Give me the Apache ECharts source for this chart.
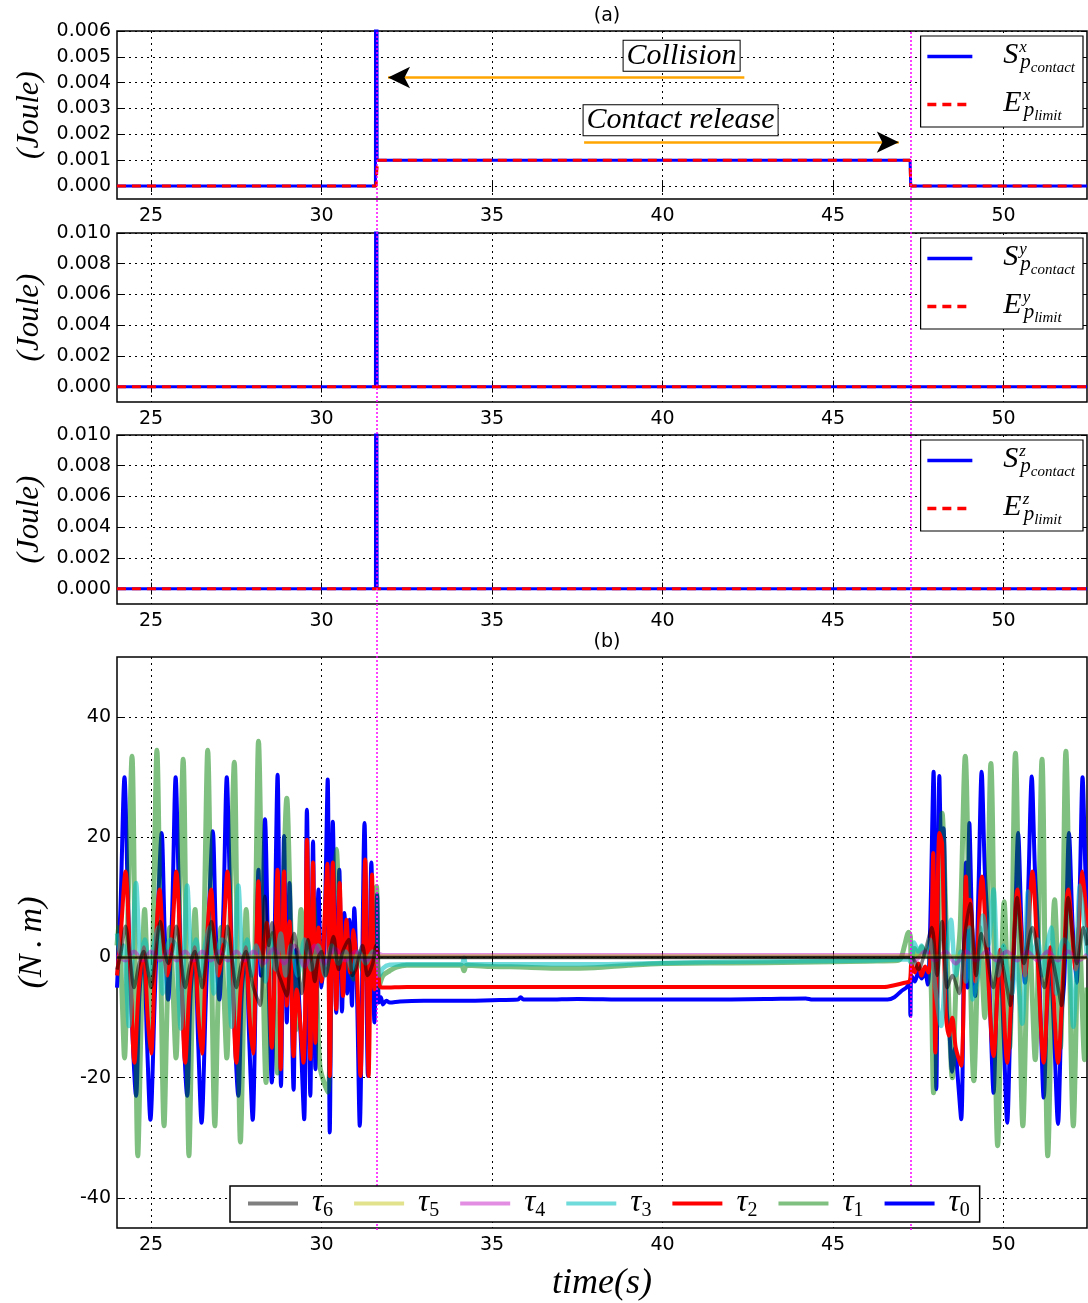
<!DOCTYPE html>
<html>
<head>
<meta charset="utf-8">
<script src="https://cdn.jsdelivr.net/npm/echarts@6.0.0/dist/echarts.min.js"></script>
<style>
  html, body { margin: 0; padding: 0; background: #fff; }
  #chart { width: 1088px; height: 1303px; }
</style>
</head>
<body>
<div id="chart"></div>
<script>
// ---- data ----
var timeTicks = [25, 30, 35, 40, 45, 50];
var joulesTicksA = [0, 0.001, 0.002, 0.003, 0.004, 0.005, 0.006];
var joulesTicksB = [0, 0.002, 0.004, 0.006, 0.008, 0.010];
var torqueTicks = [-40, -20, 0, 20, 40];

// (a) energies: [time, joule]
var sx = [[24, 0], [31.58, 0], [31.6, 0.05], [31.63, 0.001], [47.26, 0.001], [47.28, 0], [52.45, 0]];
var ex = [[24, 0], [31.6, 0], [31.62, 0.0006], [31.65, 0.001], [47.26, 0.001], [47.28, 0], [52.45, 0]];
var sy = [[24, 0], [31.58, 0], [31.6, 0.05], [31.63, 0], [52.45, 0]];
var ey = [[24, 0], [52.45, 0]];
var sz = [[24, 0], [31.58, 0], [31.6, 0.05], [31.63, 0], [52.45, 0]];
var ez = [[24, 0], [52.45, 0]];

// (b) joint torques: [time, N.m]
var tau0 = [[24.00,-5],[24.10,8],[24.22,30],[24.31,12],[24.40,-5],[24.56,-23],[24.66,-6],[24.78,1],[24.88,-14],[24.98,-27],[25.10,-8],[25.20,8],[25.31,20.7],[25.40,4],[25.50,-7],[25.62,8],[25.72,30],[25.81,12],[25.90,-5],[26.06,-23],[26.16,-6],[26.28,1],[26.38,-14],[26.48,-27.5],[26.60,-8],[26.70,8],[26.81,21],[26.90,4],[27.00,-7],[27.12,8],[27.22,30],[27.31,12],[27.40,-5],[27.56,-23],[27.66,-6],[27.78,1],[27.88,-14],[27.98,-27],[28.07,-5],[28.15,14.6],[28.22,-3],[28.34,23],[28.44,-2],[28.54,-20.8],[28.62,2],[28.71,30.4],[28.81,-21.4],[28.90,20.2],[28.98,-10.8],[29.06,12.4],[29.18,-22],[29.25,1.3],[29.35,-8],[29.49,-26.9],[29.57,24.6],[29.67,-23],[29.75,19.3],[29.82,-18.6],[29.91,11.3],[30.00,-5],[30.08,2],[30.18,29.6],[30.24,-29.1],[30.33,22.6],[30.43,-9.2],[30.52,14.6],[30.60,-9],[30.67,7.4],[30.75,-6],[30.82,6.3],[30.89,-8],[30.96,8.2],[31.04,-6],[31.12,-28],[31.26,22.4],[31.36,-19.7],[31.46,15.8],[31.55,-10.8],[31.63,10.5],[31.68,-7.5],[31.74,-6.6],[31.80,-7.8],[31.90,-7.2],[32.0,-7.5],[32.3,-7.3],[33.0,-7.2],[34.0,-7.2],[35.0,-7.1],[35.76,-7.0],[35.84,-6.6],[35.92,-7.0],[36.6,-7.0],[37.5,-6.9],[39.0,-7.0],[41.0,-7.0],[43.0,-6.9],[44.2,-6.8],[44.4,-7.0],[46.0,-7.0],[46.6,-7.0],[46.8,-6.6],[47.0,-5.6],[47.15,-5],[47.24,-4.3],[47.27,-9.7],[47.30,-3],[47.40,-4],[47.50,-2.5],[47.60,-3.5],[47.70,-2.5],[47.78,-4.5],[47.85,5],[47.95,30.9],[48.03,-21.9],[48.12,30.2],[48.18,18],[48.24,21.5],[48.34,-9],[48.42,-13],[48.49,-19],[48.58,-15],[48.66,-20],[48.76,-26.9],[48.84,0],[48.90,15.8],[48.95,-5],[49.00,22.4],[49.08,5],[49.17,-6.4],[49.27,12],[49.36,30.9],[49.45,15],[49.53,5.8],[49.62,-10],[49.71,-22.5],[49.80,-8],[49.90,0],[50.00,-12],[50.11,-27.5],[50.20,-12],[50.27,-4],[50.35,8],[50.43,20.7],[50.53,5],[50.63,-4.2],[50.73,12],[50.83,30.1],[50.92,15],[51.00,5.8],[51.09,-10],[51.18,-23.3],[51.28,-8],[51.37,0],[51.48,-12],[51.60,-27.7],[51.70,-10],[51.78,-4],[51.85,8],[51.92,20.7],[52.03,5],[52.14,-4.2],[52.24,12],[52.32,30],[52.40,15],[52.45,8]];
var tau1 = [[24.00,2],[24.05,5],[24.14,-5],[24.22,-16.7],[24.33,10],[24.44,33.5],[24.53,0],[24.61,-33],[24.71,-10],[24.81,8],[24.90,-5],[24.98,-15],[25.08,10],[25.17,34.5],[25.28,0],[25.38,-28],[25.47,-8],[25.55,5],[25.64,-5],[25.73,-16.7],[25.84,10],[25.94,33],[26.03,0],[26.11,-33],[26.20,-10],[26.29,8],[26.39,-5],[26.48,-15],[26.57,10],[26.66,34.5],[26.77,0],[26.87,-28],[26.96,-8],[27.05,5],[27.13,-5],[27.22,-16.7],[27.33,10],[27.44,32.5],[27.53,0],[27.62,-30.7],[27.71,-10],[27.79,8],[27.88,-5],[27.98,-15],[28.07,10],[28.15,36],[28.26,5],[28.37,-20.8],[28.46,-2],[28.55,4],[28.63,-8],[28.71,-19.2],[28.85,5],[28.98,26.5],[29.10,5],[29.25,-12],[29.40,8],[29.55,-5],[29.75,10],[29.95,-18],[30.18,-22.4],[30.30,5],[30.43,18],[30.55,5],[30.70,-1],[30.82,-2],[30.94,-3.6],[31.05,0],[31.20,-2],[31.35,-4],[31.50,3],[31.61,11.8],[31.68,-5],[31.80,-3],[32.0,-2.2],[32.2,-1.6],[32.5,-1.3],[33.5,-1.3],[34.1,-1.3],[34.18,-2.2],[34.25,-1.3],[35.0,-1.5],[36.0,-1.6],[37.0,-1.8],[38.0,-1.7],[39.0,-1.3],[40.0,-1.0],[42.0,-0.9],[44.0,-0.8],[46.0,-0.6],[46.9,-0.5],[47.0,0],[47.1,2],[47.22,4.2],[47.27,3.5],[47.30,-1],[47.40,1.5],[47.50,0.3],[47.60,1.8],[47.70,0.5],[47.80,1.3],[47.88,-5],[47.95,-22.5],[48.08,0],[48.20,24],[48.35,0],[48.50,-20],[48.62,-3],[48.73,5],[48.88,33.5],[49.00,5],[49.13,-20.5],[49.30,5],[49.45,-10],[49.63,32.3],[49.83,-31.3],[50.02,9.3],[50.18,-15],[50.35,34],[50.57,-28],[50.75,5],[50.93,-17],[51.13,33],[51.30,-33],[51.50,9.6],[51.67,-15],[51.83,34.3],[52.05,-28],[52.22,5],[52.38,-17],[52.45,-5]];
var tau2 = [[24.00,-3],[24.10,3],[24.25,14.3],[24.38,0],[24.51,-17.5],[24.64,-5],[24.78,1.7],[24.90,-10],[25.00,-16],[25.12,0],[25.25,11.3],[25.36,2],[25.48,-3],[25.60,2],[25.74,14.3],[25.87,0],[26.00,-17.5],[26.13,-5],[26.27,1.7],[26.39,-10],[26.49,-16],[26.61,0],[26.76,11.3],[26.87,2],[26.98,-3],[27.10,2],[27.24,14.3],[27.37,0],[27.50,-17.5],[27.63,-5],[27.77,1.7],[27.89,-10],[27.99,-16],[28.07,-2],[28.15,12.7],[28.25,-1.4],[28.39,5.8],[28.54,-15],[28.71,14.6],[28.80,-18.6],[28.90,14.3],[28.98,-8],[29.06,6],[29.18,-16.4],[29.27,-5.3],[29.47,-17.5],[29.57,19.6],[29.67,-16.9],[29.75,15.8],[29.82,-14.2],[29.91,5],[30.00,-4],[30.10,8],[30.17,15.6],[30.24,-19.7],[30.33,15.8],[30.43,-8.6],[30.53,12.4],[30.63,-6.4],[30.73,6.3],[30.84,-2.5],[30.94,4.6],[31.04,-2.5],[31.14,-19.7],[31.28,16.3],[31.38,-19.7],[31.48,13.8],[31.55,-5.3],[31.63,1.3],[31.70,-4.7],[31.80,-5.0],[32.5,-4.9],[35.0,-4.9],[40.0,-4.9],[44.0,-4.9],[46.5,-4.9],[46.8,-4.6],[47.1,-4.2],[47.25,-3.9],[47.30,-1],[47.40,-2.5],[47.50,-1],[47.60,-3],[47.70,-1.5],[47.80,-2.5],[47.88,3],[47.94,17.4],[48.00,-15.8],[48.12,20.7],[48.20,19],[48.30,-8.6],[48.40,-13],[48.50,-10],[48.60,-15],[48.76,-18],[48.90,13.5],[48.96,5],[49.02,9.6],[49.17,-4],[49.37,13.5],[49.52,0],[49.71,-16.4],[49.90,1.3],[50.11,-17.5],[50.26,-3],[50.41,11.3],[50.63,-3],[50.85,14.3],[51.00,0],[51.18,-17.5],[51.37,1.7],[51.60,-17.5],[51.75,-3],[51.90,11.3],[52.12,-2],[52.32,14.3],[52.45,5]];
var tau3 = [[24.00,4],[24.12,0],[24.20,2],[24.35,-11.4],[24.56,12.4],[24.70,0],[24.82,3],[24.95,-3],[25.08,2],[25.20,5],[25.34,-6],[25.45,1],[25.58,3],[25.72,2],[25.87,-11.8],[26.06,12],[26.20,0],[26.32,3],[26.45,-3],[26.58,2],[26.70,5],[26.84,-6],[26.95,1],[27.08,3],[27.22,2],[27.36,-11.5],[27.56,12],[27.70,0],[27.82,3],[27.95,-3],[28.08,2],[28.20,0],[28.35,-4],[28.50,3],[28.65,-2],[28.80,4],[28.95,-3],[29.10,2],[29.30,-3],[29.50,3],[29.70,-2],[29.90,2],[30.10,-3],[30.30,2],[30.50,-1],[30.70,1],[30.90,-2],[31.10,1],[31.30,-1],[31.50,1],[31.62,0],[31.70,-3],[31.80,-1.8],[32.0,-1.2],[32.5,-1.1],[34.1,-1.1],[34.18,0],[34.25,-1.1],[36.0,-1.1],[38.0,-1.1],[40.0,-0.9],[42.0,-0.7],[44.0,-0.6],[46.0,-0.5],[47.2,-0.3],[47.30,-1],[47.38,2.5],[47.50,1],[47.60,2],[47.70,0.5],[47.85,3],[48.00,-5],[48.17,-11.4],[48.30,-2],[48.46,6.3],[48.60,-3],[48.75,1],[48.90,-4],[49.00,5],[49.10,-7],[49.25,-3],[49.40,7],[49.55,2],[49.71,11.3],[49.85,-3],[50.00,2],[50.12,-3],[50.25,-6],[50.35,0],[50.55,-11],[50.72,11],[50.85,0],[51.00,3],[51.15,-3],[51.28,2],[51.40,5],[51.55,-6],[51.65,1],[51.78,3],[51.90,2],[52.05,-11.5],[52.25,12],[52.45,0]];
var tau4 = [[24.0,0.5],[24.25,-0.5],[24.5,1],[24.75,-0.5],[25.0,1],[25.25,-0.5],[25.5,1],[25.75,-0.5],[26.0,1],[26.25,-0.5],[26.5,1],[26.75,-0.5],[27.0,1],[27.25,-0.5],[27.5,1],[27.75,-0.5],[28.0,1],[28.3,-1],[28.6,1.5],[28.9,-1],[29.2,2],[29.5,-1.5],[29.8,2],[30.1,-1],[30.4,1.5],[30.7,-0.5],[31.0,1],[31.3,-0.5],[31.6,0.8],[31.8,0.4],[47.2,0.4],[47.4,-0.5],[47.7,1],[48.0,-0.5],[48.3,1],[48.6,-1],[48.9,1],[49.2,-0.5],[49.5,1],[49.8,-0.5],[50.1,1],[50.4,-0.5],[50.7,1],[51.0,-0.5],[51.3,1],[51.6,-0.5],[51.9,1],[52.2,-0.5],[52.45,0.5]];
var tau5 = [[24.0,0],[31.6,0.2],[47.3,0.2],[52.45,0]];
var tau6 = [[24.0,-2],[24.12,1],[24.25,5.2],[24.38,0],[24.5,-5],[24.65,-1],[24.78,1],[24.9,-2],[25.0,-5],[25.12,0],[25.27,6],[25.4,1],[25.5,-1],[25.62,1],[25.74,5.2],[25.87,0],[26.0,-5],[26.15,-1],[26.28,1],[26.4,-2],[26.5,-5],[26.62,0],[26.77,6],[26.9,1],[27.0,-1],[27.12,1],[27.24,5.2],[27.37,0],[27.5,-5],[27.65,-1],[27.78,1],[27.9,-2],[28.0,-5],[28.2,-8],[28.34,10.2],[28.45,2],[28.55,5.8],[28.7,-2],[28.82,-4],[28.98,-6.4],[29.1,2],[29.2,4],[29.32,-2],[29.42,-6],[29.6,3],[29.72,-1],[29.8,-4],[29.9,0],[30.0,1],[30.12,-3],[30.35,3.5],[30.5,-2],[30.62,1],[30.8,3],[30.9,-3],[31.0,-2],[31.2,2],[31.35,-3],[31.5,-1],[31.6,2],[31.7,0],[31.8,0],[47.3,0],[47.5,-2],[47.7,1],[47.9,5],[48.05,-3],[48.2,6],[48.35,-5],[48.5,-3],[48.7,-6],[48.85,3],[49.02,9],[49.2,-3],[49.35,4],[49.5,1],[49.7,-5],[49.9,0],[50.1,-5],[50.2,-8],[50.4,10],[50.6,-1],[50.85,5],[51.0,1],[51.2,-5],[51.4,0],[51.6,-5],[51.7,-8],[51.9,10],[52.15,-1],[52.35,5],[52.45,2]];

var collisionTime = 31.61, releaseTime = 47.27;

// ---- chart ----
var chart = echarts.init(document.getElementById('chart'), null, { renderer: 'canvas' });

var SERIF = 'Liberation Serif';
var SANS = 'DejaVu Sans';
var X_MIN = 24, X_MAX = 52.45;
var grids = [
    { top: 31, height: 168 },
    { top: 233, height: 169 },
    { top: 435, height: 169 },
    { top: 657, height: 573 }
];

function bottomX(i) {
    var ax = {
        type: 'value', gridIndex: i, min: X_MIN, max: X_MAX, z: 3,
        axisLine: { show: false },
        axisTick: { inside: true, length: 6, customValues: timeTicks, lineStyle: { color: '#000' } },
        axisLabel: { customValues: timeTicks, color: '#000', fontSize: 19, fontFamily: SANS, margin: 8 },
        splitLine: { show: true, lineStyle: { color: '#000', type: [2, 4], width: 1 } }
    };
    if (i == 3) {
        ax.name = 'time(s)';
        ax.nameLocation = 'middle';
        ax.nameGap = 38;
        ax.nameTextStyle = { fontFamily: SERIF, fontStyle: 'italic', fontSize: 36, color: '#000' };
    }
    return ax;
}
function topX(i) {
    return {
        type: 'value', gridIndex: i, min: X_MIN, max: X_MAX, position: 'top', z: 3,
        axisLine: { show: false },
        axisTick: { inside: true, length: 6, customValues: timeTicks, lineStyle: { color: '#000' } },
        axisLabel: { show: false },
        splitLine: { show: false }
    };
}
var yRanges = [[-0.0005, 0.006, joulesTicksA], [-0.001, 0.010, joulesTicksB], [-0.001, 0.010, joulesTicksB], [-45, 50, torqueTicks]];
function leftY(i) {
    var r = yRanges[i];
    return {
        type: 'value', gridIndex: i, min: r[0], max: r[1], z: 3,
        axisLine: { show: false },
        axisTick: { inside: true, length: 6, customValues: r[2], lineStyle: { color: '#000' } },
        axisLabel: {
            customValues: r[2], color: '#000', fontSize: 19, fontFamily: SANS, margin: 6,
            formatter: function (v) { return i < 3 ? v.toFixed(3) : String(Math.round(v)); }
        },
        splitLine: { show: true, lineStyle: { color: '#000', type: [2, 4], width: 1 } },
        name: i < 3 ? '(Joule)' : '(N\u2009.\u2009m)',
        nameLocation: 'middle',
        nameRotate: 90,
        nameGap: i < 3 ? 72 : 68,
        nameTextStyle: { fontFamily: SERIF, fontStyle: 'italic', fontSize: i < 3 ? 31 : 34, color: '#000' }
    };
}
function rightY(i) {
    var r = yRanges[i];
    return {
        type: 'value', gridIndex: i, min: r[0], max: r[1], position: 'right', z: 3,
        axisLine: { show: false },
        axisTick: { inside: true, length: 6, customValues: r[2], lineStyle: { color: '#000' } },
        axisLabel: { show: false },
        splitLine: { show: false }
    };
}

var xAxes = [], yAxes = [];
for (var i = 0; i < 4; i++) { xAxes.push(bottomX(i)); yAxes.push(leftY(i)); }
for (var i = 0; i < 4; i++) { xAxes.push(topX(i)); yAxes.push(rightY(i)); }
// overlay spanning all panels, for the two event lines
xAxes.push({ type: 'value', gridIndex: 4, min: X_MIN, max: X_MAX, show: false });
yAxes.push({ type: 'value', gridIndex: 4, min: 0, max: 1, show: false });

function energyLine(name, data, g, color, dashed) {
    return {
        name: name, type: 'line', xAxisIndex: g, yAxisIndex: g, data: data,
        symbol: 'none', clip: true, color: color,
        lineStyle: { color: color, width: 3, type: dashed ? [9, 6] : 'solid' }
    };
}
function torqueLine(name, data, color, width) {
    return {
        name: name, type: 'line', xAxisIndex: 3, yAxisIndex: 3, data: data,
        symbol: 'none', clip: true, smooth: 0.3, color: color,
        lineStyle: { color: color, width: width }
    };
}

var boxLabel = {
    show: true, position: 'inside', color: '#000',
    fontFamily: SERIF, fontStyle: 'italic', fontSize: 30,
    backgroundColor: '#fff', borderColor: '#000', borderWidth: 1, padding: [1, 3, -1, 3]
};

var sxSeries = energyLine('Sx', sx, 0, '#0000ff', false);
sxSeries.markLine = {
    silent: true, symbol: ['none', 'none'], label: { show: false },
    lineStyle: { color: '#ffa500', width: 2.5, type: 'solid' },
    data: [
        [{ coord: [42.4, 0.0042] }, { coord: [31.95, 0.0042] }],
        [{ coord: [37.7, 0.0017] }, { coord: [46.93, 0.0017] }]
    ]
};
sxSeries.markPoint = {
    silent: true,
    data: [
        { coord: [31.95, 0.0042], symbol: 'arrow', symbolSize: [16, 22], symbolRotate: 90, itemStyle: { color: '#000' }, label: { show: false } },
        { coord: [46.93, 0.0017], symbol: 'arrow', symbolSize: [16, 22], symbolRotate: -90, itemStyle: { color: '#000' }, label: { show: false } },
        { coord: [40.56, 0.00504], symbolSize: 0, label: Object.assign({ formatter: 'Collision' }, boxLabel) },
        { coord: [40.53, 0.00255], symbolSize: 0, label: Object.assign({ formatter: 'Contact release' }, boxLabel) }
    ]
};

var t6 = torqueLine('tau6', tau6, 'rgba(0,0,0,0.5)', 3.5);
t6.markLine = {
    silent: true, symbol: 'none', label: { show: false },
    lineStyle: { color: 'rgba(0,0,0,0.75)', width: 2.5, type: 'solid' },
    data: [{ yAxis: 0 }]
};

var series = [
    sxSeries,
    energyLine('Ex', ex, 0, '#ff0000', true),
    energyLine('Sy', sy, 1, '#0000ff', false),
    energyLine('Ey', ey, 1, '#ff0000', true),
    energyLine('Sz', sz, 2, '#0000ff', false),
    energyLine('Ez', ez, 2, '#ff0000', true),
    torqueLine('tau0', tau0, '#0000ff', 4),
    torqueLine('tau1', tau1, 'rgba(0,128,0,0.5)', 5),
    torqueLine('tau2', tau2, '#ff0000', 4),
    torqueLine('tau3', tau3, 'rgba(0,191,191,0.56)', 4.5),
    torqueLine('tau4', tau4, 'rgba(191,0,191,0.45)', 4),
    torqueLine('tau5', tau5, 'rgba(191,191,0,0.45)', 4),
    t6,
    {
        name: 'events', type: 'line', xAxisIndex: 8, yAxisIndex: 8, data: [],
        markLine: {
            silent: true, symbol: 'none', label: { show: false },
            lineStyle: { color: '#ff00ff', width: 1.5, type: [2, 2] },
            data: [{ xAxis: collisionTime }, { xAxis: releaseTime }]
        }
    }
];

var legendMath = {
    Sx: ['S', 'x', 'contact'], Ex: ['E', 'x', 'limit'],
    Sy: ['S', 'y', 'contact'], Ey: ['E', 'y', 'limit'],
    Sz: ['S', 'z', 'contact'], Ez: ['E', 'z', 'limit']
};
var mathRich = {
    big: { fontFamily: SERIF, fontStyle: 'italic', fontSize: 30, verticalAlign: 'top', padding: [3, 1, 0, 0] },
    sup: { fontFamily: SERIF, fontStyle: 'italic', fontSize: 17, verticalAlign: 'top', padding: [2, 0, 0, 0], width: 1 },
    p: { fontFamily: SERIF, fontStyle: 'italic', fontSize: 21, verticalAlign: 'top', padding: [15, 0, 0, 0] },
    sub: { fontFamily: SERIF, fontStyle: 'italic', fontSize: 15, verticalAlign: 'top', padding: [24, 0, 0, 0] }
};
var hideSymbol = { opacity: 0, borderWidth: 0 };
function energyLegend(names, top) {
    return {
        data: names, orient: 'vertical', right: 5, top: top, z: 10,
        itemWidth: 45, itemHeight: 14, itemGap: 11,
        padding: [3, 8, 3, 5],
        borderColor: '#000', borderWidth: 1.2, backgroundColor: '#fff',
        selectedMode: false,
        itemStyle: hideSymbol,
        lineStyle: { width: 3.5 },
        formatter: function (n) {
            var m = legendMath[n];
            return '{big|' + m[0] + '}{sup|' + m[1] + '}{p|p}{sub|' + m[2] + '}';
        },
        textStyle: { color: '#000', padding: [0, 0, 0, 26], rich: mathRich }
    };
}

var option = {
    animation: false,
    backgroundColor: '#fff',
    title: [
        { text: '(a)', left: 602, top: 2, textAlign: 'center', textStyle: { fontSize: 19, fontWeight: 'normal', fontFamily: SANS, color: '#000' } },
        { text: '(b)', left: 602, top: 628, textAlign: 'center', textStyle: { fontSize: 19, fontWeight: 'normal', fontFamily: SANS, color: '#000' } }
    ],
    grid: grids.map(function (g) {
        return { left: 117, right: 1, top: g.top, height: g.height, show: true, borderColor: '#000', borderWidth: 1.5, backgroundColor: 'transparent' };
    }).concat([{ left: 117, right: 1, top: 31, height: 1199, show: false }]),
    xAxis: xAxes,
    yAxis: yAxes,
    legend: [
        energyLegend(['Sx', 'Ex'], 36),
        energyLegend(['Sy', 'Ey'], 238),
        energyLegend(['Sz', 'Ez'], 440),
        {
            data: ['tau6', 'tau5', 'tau4', 'tau3', 'tau2', 'tau1', 'tau0'],
            orient: 'horizontal', left: 230, top: 1186, z: 10,
            itemWidth: 50, itemHeight: 12, itemGap: 19,
            padding: [1, 10, 1, 16],
            borderColor: '#000', borderWidth: 1.5, backgroundColor: '#fff',
            selectedMode: false,
            itemStyle: hideSymbol,
            lineStyle: { width: 4 },
            formatter: function (n) { return '{t|\u03c4}{s|' + n.slice(3) + '}'; },
            textStyle: {
                color: '#000', padding: [0, 0, 0, 9],
                rich: {
                    t: { fontFamily: SERIF, fontStyle: 'italic', fontSize: 31, verticalAlign: 'top', padding: [1, 0, 0, 0] },
                    s: { fontFamily: SERIF, fontSize: 20, verticalAlign: 'top', padding: [15, 0, 0, 0] }
                }
            }
        }
    ],
    series: series
};
chart.setOption(option);
</script>
</body>
</html>
